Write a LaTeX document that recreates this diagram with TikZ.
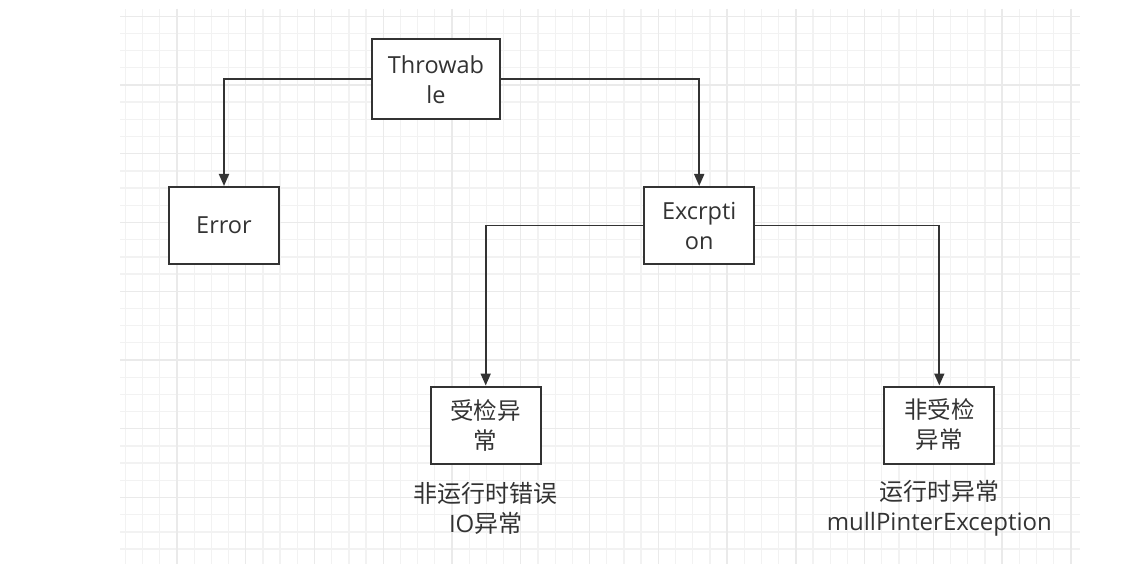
\documentclass[tikz,border=0pt]{standalone}
\usepackage{fontspec}
\setmainfont{Open Sans}
\newfontfamily\cjk{Noto Sans CJK SC}
\usetikzlibrary{arrows.meta}
\definecolor{gridminor}{HTML}{F2F2F2}
\definecolor{gridmajor}{HTML}{EAEAEA}
\definecolor{ink}{HTML}{333333}
\tikzset{
  box/.style={draw=ink, line width=2pt, fill=white, minimum width=110pt,
    minimum height=77pt, inner sep=0pt, align=center, text=ink,
    font=\fontsize{23.5}{30}\selectfont},
  note/.style={align=center, text=ink, font=\fontsize{24}{29.5}\selectfont},
  link/.style={draw=ink, line width=1.8pt, -{Triangle[length=12pt,width=10pt]}}
}
\begin{document}
\begin{tikzpicture}[x=1pt,y=-1pt]
\useasboundingbox (0,0) rectangle (1148,564);
\begin{scope}
\clip (120,9) rectangle (1080,564);
\foreach \k in {0,...,55}
  \draw[gridminor, line width=1.3pt] (125.4+17.19*\k,9) -- (125.4+17.19*\k,564);
\foreach \j in {0,...,31}
  \draw[gridminor, line width=1.3pt] (120,16.2+17.19*\j) -- (1080,16.2+17.19*\j);
\foreach \m in {0,...,13}
  \draw[gridmajor, line width=1.3pt] (177+68.76*\m,9) -- (177+68.76*\m,564);
\foreach \m in {0,...,7}
  \draw[gridmajor, line width=1.3pt] (120,16.2+68.76*\m) -- (1080,16.2+68.76*\m);
\end{scope}

\node[box, minimum width=128pt, minimum height=80pt] (throwable) at (436,79.3) {Throwab\\le};
\node[box] (error) at (224,225.5) {Error};
\node[box] (excp) at (699.2,225.5) {Excrpti\\on};
\node[box] (checked) at (485.7,425) {{\cjk 受检异}\\{\cjk 常}};
\node[box] (unchecked) at (939.3,425) {{\cjk 非受检}\\{\cjk 异常}};
\node[note] (checkednote) at (485.7,508.5) {{\cjk 非运行时错误}\\IO{\cjk 异常}};
\node[note] (uncheckednote) at (939.3,508.5) {{\cjk 运行时异常}\\mullPinterException};

\draw[link] (throwable.west) -| (error.north);
\draw[link] (throwable.east) -| (excp.north);
\draw[link] (excp.west) -| (checked.north);
\draw[link] (excp.east) -| (unchecked.north);
\end{tikzpicture}
\end{document}
